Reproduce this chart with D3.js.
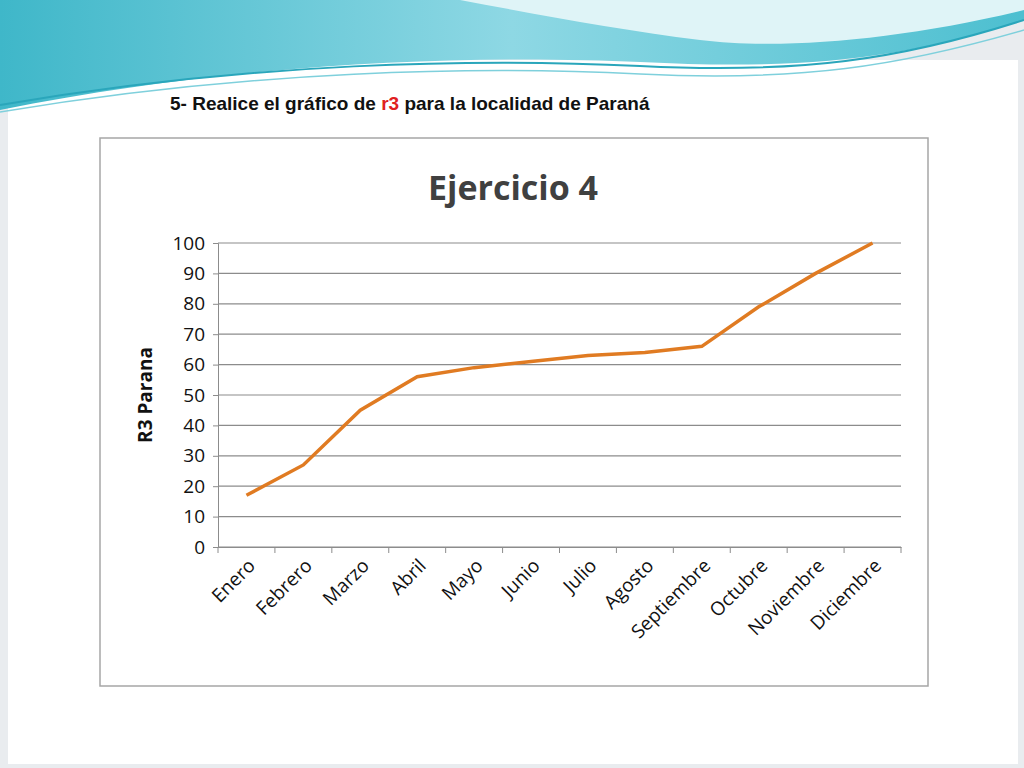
<!DOCTYPE html>
<html><head><meta charset="utf-8">
<script src="https://cdn.jsdelivr.net/npm/d3@7"></script>
<style>body{margin:0;background:#fff}svg{display:block}</style>
</head><body><svg id="c" width="1024" height="768"></svg>
<script>
const months=["Enero","Febrero","Marzo","Abril","Mayo","Junio","Julio","Agosto","Septiembre","Octubre","Noviembre","Diciembre"];
const r3=[17,27,45,56,59,61,63,64,66,79,90,100];
const yTicks=[0,10,20,30,40,50,60,70,80,90,100];

const svg=d3.select("#c");
const defs=svg.append("defs");
const g1=defs.append("linearGradient").attr("id","wave").attr("x1",0).attr("x2",1);
g1.append("stop").attr("offset",0).attr("stop-color","#3fb7c9");
g1.append("stop").attr("offset",0.5).attr("stop-color","#8ed8e4");
g1.append("stop").attr("offset",1).attr("stop-color","#4dbfd0");
// slide frame
svg.append("rect").attr("x",0).attr("y",0).attr("width",1024).attr("height",768).attr("fill","#e9ecef");
svg.append("rect").attr("x",8).attr("y",60).attr("width",1010).attr("height",704).attr("fill","#fff");
// top wave
svg.append("path").attr("d","M0,0 H1024 V20 C900,60 800,70 640,62 C480,55 250,60 0,110 Z").attr("fill","url(#wave)");
svg.append("path").attr("d","M460,0 H1024 V10 C900,40 780,50 700,40 C620,30 540,15 460,0 Z").attr("fill","#dff4f7");
svg.append("path").attr("d","M0,105 C250,62 480,58 640,66 C800,74 900,60 1024,20").attr("fill","none").attr("stroke","#2aa6bb").attr("stroke-width",2);
svg.append("path").attr("d","M0,112 C250,70 480,66 640,74 C800,82 900,66 1024,30").attr("fill","none").attr("stroke","#7fd0dc").attr("stroke-width",1.5);

// slide heading
const h=svg.append("text").attr("x",170).attr("y",110).attr("font-family","Liberation Sans, Arial, sans-serif").attr("font-weight","bold").attr("font-size",19).attr("fill","#111");
h.append("tspan").text("5- Realice el gráfico de ");
h.append("tspan").attr("fill","#e02020").text("r3");
h.append("tspan").text(" para la localidad de Paraná");

// chart box
svg.append("rect").attr("x",100).attr("y",138).attr("width",828).attr("height",548).attr("fill","#fff").attr("stroke","#a6a6a6").attr("stroke-width",1.5);
svg.append("text").attr("x",513).attr("y",200).attr("text-anchor","middle").attr("font-family","Open Sans, Liberation Sans, sans-serif").attr("font-weight","bold").attr("font-size",34).attr("fill","#404040").text("Ejercicio 4");

const x=d3.scaleBand().domain(months).range([218,901]);
const y=d3.scaleLinear().domain([0,100]).range([547,243]);
svg.append("g").selectAll("line").data(yTicks).join("line")
 .attr("x1",218).attr("x2",901).attr("y1",d=>y(d)).attr("y2",d=>y(d)).attr("stroke","#8c8c8c").attr("stroke-width",1.2);
const ya=svg.append("g").attr("transform","translate(218,0)").call(d3.axisLeft(y).tickValues(yTicks).tickSize(5).tickPadding(8));
ya.select(".domain").attr("stroke","#8c8c8c");
ya.selectAll("line").attr("stroke","#8c8c8c");
ya.selectAll("text").attr("font-family","Open Sans, Liberation Sans, sans-serif").attr("font-size",19).attr("fill","#111");
const xa=svg.append("g").attr("transform","translate(0,547)").call(d3.axisBottom(x).tickSize(0).tickPadding(0));
xa.select(".domain").attr("stroke","#8c8c8c");
xa.selectAll("text").attr("font-family","Open Sans, Liberation Sans, sans-serif").attr("font-size",19).attr("fill","#111")
 .attr("text-anchor","end").attr("dy",0).attr("transform",d=>`translate(${10},20) rotate(-45)`);
svg.append("g").selectAll("line").data(months.concat(["_end"])).join("line")
 .attr("x1",(d,i)=>218+i*x.step()).attr("x2",(d,i)=>218+i*x.step()).attr("y1",547).attr("y2",553).attr("stroke","#8c8c8c");
svg.append("text").attr("transform","translate(152,395) rotate(-90)").attr("text-anchor","middle")
 .attr("font-family","Open Sans, Liberation Sans, sans-serif").attr("font-weight","bold").attr("font-size",19).attr("fill","#111").text("R3 Parana");
svg.append("path").datum(r3).attr("fill","none").attr("stroke","#e07b22").attr("stroke-width",3.5)
 .attr("d",d3.line().x((d,i)=>x(months[i])+x.bandwidth()/2).y(d=>y(d)));
</script></body></html>
